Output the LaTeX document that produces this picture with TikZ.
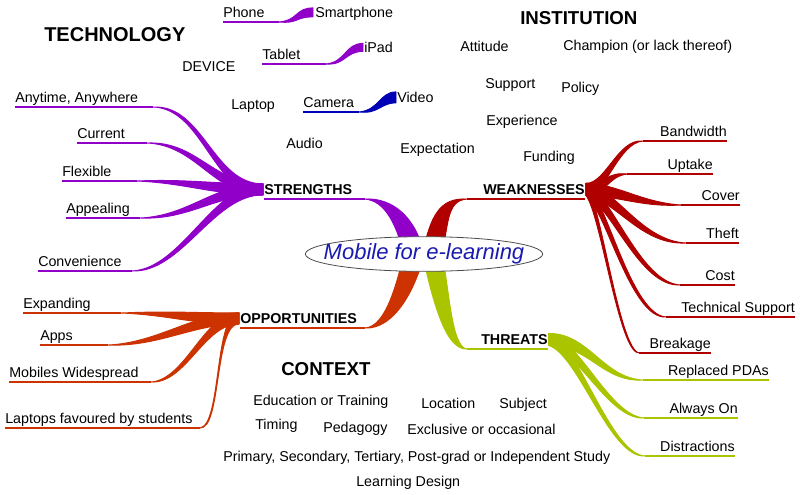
\documentclass[tikz,border=0pt]{standalone}
\usepackage{fontspec}
\setmainfont{Liberation Sans}
\usetikzlibrary{shapes.geometric, calc, backgrounds}
\definecolor{mapviolet}{HTML}{9000C8}
\definecolor{mapred}{HTML}{B00000}
\definecolor{maporange}{HTML}{CC3300}
\definecolor{maplime}{HTML}{AAC400}
\definecolor{mapblue}{HTML}{0000B4}
\definecolor{mapink}{HTML}{1A1AB0}
\newcommand{\twig}[7]{% colour, label far end, thin end, its pull, hub pull, hub, half-width
  \coordinate (tw-a) at (#3);
  \coordinate (tw-h) at (#6);
  \draw[#1, line width=1.1pt] (#2) -- (tw-a);
  \filldraw[#1, line width=0.7pt, line join=round]
    (tw-a) .. controls ($(tw-a)+(#4)-0.4*(#7)$) and ($(tw-h)+(#5)-(#7)$) .. ($(tw-h)-(#7)$)
    -- ($(tw-h)+(#7)$) .. controls ($(tw-h)+(#5)+(#7)$) and ($(tw-a)+(#4)+0.4*(#7)$) .. (tw-a) -- cycle;
}

\begin{document}
\begin{tikzpicture}[x=0.75pt, y=-0.75pt,
  leaf/.style={font=\fontsize{10.7}{12}\selectfont, inner xsep=0pt, inner ysep=3pt,
    text height=8pt, text depth=0pt},
  arm/.style={leaf, font=\fontsize{10.7}{12}\selectfont\bfseries},
  topic/.style={font=\fontsize{14}{16}\selectfont\bfseries, inner sep=0pt},
  core/.style={ellipse, draw=black!70, fill=white, line width=0.6pt, minimum width=178pt,
    minimum height=26pt, inner xsep=-14pt, inner ysep=0pt,
    font=\fontsize{16.5}{18}\selectfont\itshape, text=mapink}]
  \useasboundingbox (0,0) rectangle (800,494);

  % headings
  \node[topic, font=\fontsize{15}{17}\selectfont\bfseries, anchor=base west] (tech) at (44,41) {TECHNOLOGY};
  \node[topic, anchor=base west] (inst) at (520,24) {INSTITUTION};
  \node[topic, anchor=base west] (ctx) at (281,375) {CONTEXT};

  % centre and the four arms
  \node[core] (core) at (424,254) {Mobile for e-learning};
  \node[arm, anchor=south west] (str) at (264,199) {STRENGTHS};
  \node[arm, anchor=south west] (weak) at (483,199) {WEAKNESSES};
  \node[arm, anchor=south west] (opp) at (240,328) {OPPORTUNITIES};
  \node[arm, anchor=south west] (thr) at (481,349) {THREATS};
  \begin{scope}[on background layer]
    \twig{mapviolet}{str.south west}{$(str.south east)+(12,0)$}{25,0}{-8,-32}{$(core.center)+(-10,0)$}{9,-4}
    \twig{mapred}{weak.south east}{$(weak.south west)+(-16,0)$}{-25,0}{8,-32}{$(core.center)+(8,0)$}{9,4}
    \twig{maporange}{opp.south west}{$(opp.south east)+(8,0)$}{25,0}{-8,32}{$(core.center)+(-10,0)$}{9,4}
    \twig{maplime}{thr.south east}{$(thr.south west)+(-14,0)$}{-20,0}{8,32}{$(core.center)+(8,0)$}{9,-4}
  \end{scope}

  % devices
  \node[leaf, anchor=south west] (dev) at (182,76) {DEVICE};
  \node[leaf, anchor=south west] (phone) at (223,22) {Phone};
  \node[leaf, anchor=south west] (smart) at (315,22) {Smartphone};
  \node[leaf, anchor=south west] (tablet) at (262,64) {Tablet};
  \node[leaf, anchor=south west] (ipad) at (364,57) {iPad};
  \node[leaf, anchor=south west] (lap) at (231,114) {Laptop};
  \node[leaf, anchor=south west] (cam) at (303,112) {Camera};
  \node[leaf, anchor=south west] (vid) at (397,107) {Video};
  \node[leaf, anchor=south west] (aud) at (286,153) {Audio};
  \twig{mapviolet}{phone.south west}{$(phone.south east)+(14,0)$}{20,0}{-18,0}{$(smart.west)+(-2,0)$}{0,4.5}
  \twig{mapviolet}{tablet.south west}{$(tablet.south east)+(25,0)$}{20,0}{-18,0}{$(ipad.west)+(-1,0)$}{0,4}
  \twig{mapblue}{cam.south west}{$(cam.south east)+(5,0)$}{20,0}{-16,0}{$(vid.west)+(-1,0)$}{0,5.5}

  % institution
  \node[leaf, anchor=south west] (att) at (460,56) {Attitude};
  \node[leaf, anchor=south west] (champ) at (563,55) {Champion (or lack thereof)};
  \node[leaf, anchor=south west] (supp) at (485,93) {Support};
  \node[leaf, anchor=south west] (pol) at (561,97) {Policy};
  \node[leaf, anchor=south west] (expr) at (486,130) {Experience};
  \node[leaf, anchor=south west] (expt) at (400,158) {Expectation};
  \node[leaf, anchor=south west] (fund) at (523,166) {Funding};

  % strengths fan
  \node[leaf, anchor=south west] (any) at (15,107) {Anytime, Anywhere};
  \node[leaf, anchor=south west] (cur) at (77,143) {Current};
  \node[leaf, anchor=south west] (flex) at (62,181) {Flexible};
  \node[leaf, anchor=south west] (app) at (66,218) {Appealing};
  \node[leaf, anchor=south west] (conv) at (38,271) {Convenience};
  \twig{mapviolet}{any.south west}{$(any.south east)+(15,0)$}{50,0}{-50,0}{$(str.west)+(-1,0)$}{0,5.5}
  \twig{mapviolet}{cur.south west}{$(cur.south east)+(22,0)$}{50,0}{-50,0}{$(str.west)+(-1,0)$}{0,5.5}
  \twig{mapviolet}{flex.south west}{$(flex.south east)+(25,0)$}{50,0}{-50,0}{$(str.west)+(-1,0)$}{0,5.5}
  \twig{mapviolet}{app.south west}{$(app.south east)+(10,0)$}{50,0}{-50,0}{$(str.west)+(-1,0)$}{0,5.5}
  \twig{mapviolet}{conv.south west}{$(conv.south east)+(10,0)$}{50,0}{-50,0}{$(str.west)+(-1,0)$}{0,5.5}

  % weaknesses fan
  \node[leaf, anchor=south east] (band) at (727,141) {Bandwidth};
  \node[leaf, anchor=south east] (upt) at (713,174) {Uptake};
  \node[leaf, anchor=south east] (cov) at (740,205) {Cover};
  \node[leaf, anchor=south east] (theft) at (739,243) {Theft};
  \node[leaf, anchor=south east] (cost) at (735,285) {Cost};
  \node[leaf, anchor=south east] (tech-s) at (795,317) {Technical Support};
  \node[leaf, anchor=south east] (brk) at (711,353) {Breakage};
  \twig{mapred}{band.south east}{$(band.south west)+(-17,0)$}{-25,0}{20,0}{$(weak.east)+(1,0)$}{0,6}
  \twig{mapred}{upt.south east}{$(upt.south west)+(-40,0)$}{-20,0}{20,0}{$(weak.east)+(1,0)$}{0,6}
  \twig{mapred}{cov.south east}{$(cov.south west)+(-20,0)$}{-40,0}{30,0}{$(weak.east)+(1,0)$}{0,6}
  \twig{mapred}{theft.south east}{$(theft.south west)+(-20,0)$}{-45,0}{30,5}{$(weak.east)+(1,0)$}{0,6}
  \twig{mapred}{cost.south east}{$(cost.south west)+(-25,0)$}{-40,0}{25,10}{$(weak.east)+(1,0)$}{0,6}
  \twig{mapred}{tech-s.south east}{$(tech-s.south west)+(-15,0)$}{-35,0}{20,15}{$(weak.east)+(1,0)$}{0,6}
  \twig{mapred}{brk.south east}{$(brk.south west)+(-10,0)$}{-20,0}{15,20}{$(weak.east)+(1,0)$}{0,6}

  % opportunities fan
  \node[leaf, anchor=south west] (expd) at (23,313) {Expanding};
  \node[leaf, anchor=south west] (apps) at (40,345) {Apps};
  \node[leaf, anchor=south west] (mob) at (9,382) {Mobiles Widespread};
  \node[leaf, anchor=south west] (lapf) at (5,428) {Laptops favoured by students};
  \twig{maporange}{expd.south west}{$(expd.south east)+(30,0)$}{50,0}{-50,0}{$(opp.west)+(-1,0)$}{0,5.5}
  \twig{maporange}{apps.south west}{$(apps.south east)+(35,0)$}{50,0}{-45,0}{$(opp.west)+(-1,0)$}{0,5.5}
  \twig{maporange}{mob.south west}{$(mob.south east)+(12,0)$}{35,0}{-35,0}{$(opp.west)+(-1,0)$}{0,5.5}
  \twig{maporange}{lapf.south west}{$(lapf.south east)+(7,0)$}{22,0}{-25,0}{$(opp.west)+(-1,0)$}{0,5.5}

  % threats fan
  \node[leaf, anchor=south east] (rep) at (769,380) {Replaced PDAs};
  \node[leaf, anchor=south east] (alw) at (738,418) {Always On};
  \node[leaf, anchor=south east] (dis) at (735,456) {Distractions};
  \twig{maplime}{rep.south east}{$(rep.south west)+(-25,0)$}{-40,0}{40,0}{$(thr.east)+(1,0)$}{0,6}
  \twig{maplime}{alw.south east}{$(alw.south west)+(-25,0)$}{-35,0}{30,5}{$(thr.east)+(1,0)$}{0,6}
  \twig{maplime}{dis.south east}{$(dis.south west)+(-15,0)$}{-35,0}{30,10}{$(thr.east)+(1,0)$}{0,6}

  % context
  \node[leaf, anchor=south west] (edu) at (253,410) {Education or Training};
  \node[leaf, anchor=south west] (loc) at (421,413) {Location};
  \node[leaf, anchor=south west] (subj) at (499,413) {Subject};
  \node[leaf, anchor=south west] (tim) at (255,434) {Timing};
  \node[leaf, anchor=south west] (ped) at (323,437) {Pedagogy};
  \node[leaf, anchor=south west] (excl) at (407,439) {Exclusive or occasional};
  \node[leaf, anchor=south west] (prim) at (223,466) {Primary, Secondary, Tertiary, Post-grad or Independent Study};
  \node[leaf, anchor=south west] (ldes) at (356,491) {Learning Design};
\end{tikzpicture}
\end{document}
